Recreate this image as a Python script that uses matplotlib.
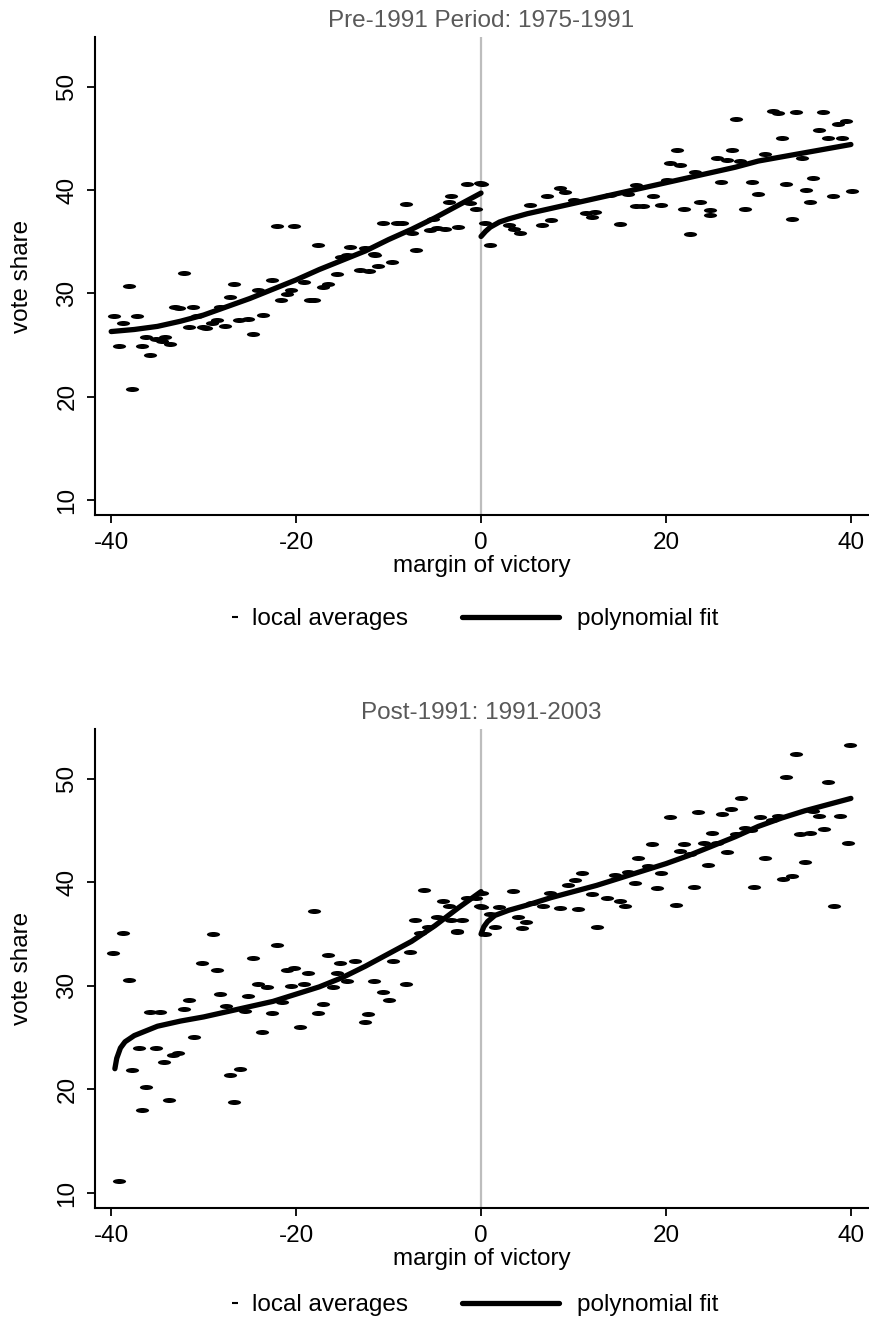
import matplotlib
matplotlib.use("Agg")
import matplotlib.pyplot as plt
from matplotlib.lines import Line2D
from matplotlib.markers import MarkerStyle
from matplotlib.transforms import Affine2D
import numpy as np

plt.rcParams['font.family'] = ['Liberation Sans', 'DejaVu Sans']

# ---------------- data ----------------
titles = ["Pre-1991 Period: 1975-1991", "Post-1991: 1991-2003"]
x_ticks = [-40, -20, 0, 20, 40]
y_ticks = [10, 20, 30, 40, 50]

pre_x = [-39.7, -38.7, -38.1, -37.2, -39.2, -36.7, -36.2, -35.8, -35.2, -34.5, -34.2, -33.6, -37.7,
         -33.1, -32.7, -32.1, -31.2, -31.6, -30.7, -30.1, -29.7, -29.1, -28.6, -28.2, -27.7, -27.1,
         -26.7, -26.2, -25.2, -24.7, -24.1, -23.6, -22.6, -21.6, -21.0, -20.5, -19.2, -18.5, -18.1,
         -17.1, -16.6, -15.6, -15.1, -14.5, -13.1, -12.1, -11.5, -11.1, -9.6, -7.0,
         -22.1, -20.2, -17.6, -14.2, -12.5, -11.6, -10.6, -9.1, -8.6, -8.1, -7.5, -5.5, -5.2, -4.8,
         -3.9, -3.5, -3.2, -2.5, -1.5, -1.2, -0.5, -0.1,
         0.4, 0.1, 1.0, 3.0, 3.6, 4.2, 5.3, 7.1, 6.6, 7.6, 8.5, 9.1, 10.0, 11.4, 12.3, 12.0, 13.9,
         15.0, 15.9, 16.8, 16.8, 17.5, 18.6, 19.5, 20.1, 21.2, 20.4, 21.5, 22.6, 21.9, 23.1, 23.7,
         24.8, 24.8, 25.5, 26.6, 26.0, 27.1, 27.6, 28.0, 28.5, 29.3, 30.0, 30.7, 31.6, 32.1, 32.5,
         33.0, 33.6, 34.1, 34.7, 35.1, 35.6, 35.9, 36.6, 37.0, 37.5, 38.1, 38.6, 39.0, 39.5, 40.1]
pre_y = [27.8, 27.1, 30.7, 27.8, 24.9, 24.9, 25.8, 24.0, 25.6, 25.4, 25.8, 25.1, 20.7,
         28.7, 28.6, 32.0, 28.7, 26.7, 27.8, 26.7, 26.6, 27.1, 27.4, 28.7, 26.8, 29.6,
         30.9, 27.4, 27.5, 26.1, 30.3, 27.9, 31.3, 29.4, 29.9, 30.3, 31.1, 29.4, 29.4,
         30.6, 30.9, 31.9, 33.5, 33.7, 32.3, 32.2, 33.7, 32.6, 33.0, 34.2,
         36.5, 36.5, 34.7, 34.5, 34.4, 33.8, 36.8, 36.8, 36.8, 38.6, 35.8, 36.1, 37.2, 36.3,
         36.2, 38.8, 39.4, 36.4, 40.6, 38.7, 38.2, 40.7,
         36.8, 40.6, 34.7, 36.6, 36.2, 35.8, 38.5, 39.4, 36.6, 37.1, 40.2, 39.8, 39.0, 37.8, 37.9, 37.4, 39.5,
         36.7, 39.6, 40.5, 38.4, 38.4, 39.4, 38.5, 41.0, 43.9, 42.6, 42.4, 35.7, 38.2, 41.7, 38.8,
         38.1, 37.6, 43.1, 42.9, 40.8, 43.9, 46.9, 42.8, 38.2, 40.8, 39.6, 43.5, 47.6, 47.4, 45.0,
         40.6, 37.2, 47.5, 43.1, 40.0, 38.8, 41.2, 45.8, 47.5, 45.0, 39.4, 46.4, 45.0, 46.7, 39.9]

pre_fit_left_x = [-40, -37.5, -35, -32.5, -30, -27.5, -25, -22.5, -20, -17.5, -15, -12.5, -10, -7.5, -5, -2.5, 0]
pre_fit_left_y = [26.3, 26.5, 26.8, 27.3, 27.9, 28.7, 29.5, 30.4, 31.3, 32.3, 33.2, 34.1, 35.2, 36.2, 37.3, 38.5, 39.7]
pre_fit_right_x = [0, 0.5, 1, 2, 3, 5, 7.5, 10, 12.5, 15, 17.5, 20, 22.5, 25, 27.5, 30, 32.5, 35, 37.5, 40]
pre_fit_right_y = [35.5, 36.0, 36.4, 36.9, 37.2, 37.7, 38.2, 38.7, 39.2, 39.7, 40.2, 40.7, 41.2, 41.7, 42.2, 42.8, 43.2, 43.6, 44.0, 44.4]

post_x = [-38.7, -39.8, -38.1, -29.0, -22.1, -24.7, -30.2, -28.6, -31.6, -32.1, -35.8, -34.7, -28.2,
          -27.6, -25.5, -25.2, -24.1, -23.2, -22.6, -23.7, -21.5, -21.0, -20.2, -20.6, -19.1, -18.7,
          -19.6, -17.1, -17.6, -16.6, -15.6, -15.2, -13.6, -14.5, -16.0, -11.6, -10.6, -10.0, -12.2,
          -12.6, -8.1, -9.5, -7.7, -6.6, -2.6, -31.0, -37.0, -35.1, -32.8, -33.3, -34.3, -37.8, -26.1,
          -27.1, -36.2, -33.7, -36.7, -26.7, -39.2,
          -18.1, -6.2, -4.1, -3.5, -1.5, -0.5, -0.1, -7.1, -4.8, -5.7, -3.2, -2.1, -2.6,
          0.1, 0.1, 0.4, 1.0, 1.9, 1.5, 3.5, 4.0, 4.9, 4.4, 5.5, 6.7, 7.5, 8.5, 9.4, 10.2, 10.9, 10.5,
          12.0, 12.5, 13.6, 14.5, 15.0, 15.6, 15.9, 16.6, 17.0, 18.1, 18.5, 19.5, 19.0, 20.4, 21.1,
          21.5, 21.9, 22.6, 23.0, 23.5, 24.1, 24.6, 25.0, 25.5, 26.1, 26.6, 27.0, 27.6, 28.1, 28.5,
          29.2, 29.5, 30.2, 30.7, 31.5, 32.1, 32.7, 33.6, 33.0, 34.1, 34.5, 35.6, 35.0, 35.9, 36.6,
          37.1, 37.5, 38.2, 38.8, 39.7, 39.9]
post_y = [35.1, 33.2, 30.6, 35.0, 33.9, 32.7, 32.2, 31.5, 28.6, 27.8, 27.5, 27.5, 29.2,
          28.1, 27.6, 29.0, 30.2, 29.9, 27.4, 25.5, 28.4, 31.5, 31.7, 30.0, 30.2, 31.2,
          26.0, 28.2, 27.4, 33.0, 31.2, 32.2, 32.4, 30.5, 29.9, 30.5, 29.4, 28.6, 27.3,
          26.5, 30.2, 32.4, 33.3, 35.1, 35.2, 25.1, 24.0, 24.0, 23.5, 23.3, 22.6, 21.9, 22.0,
          21.4, 20.2, 19.0, 18.0, 18.8, 11.2,
          37.2, 39.3, 38.2, 37.7, 38.5, 38.5, 37.7, 36.4, 36.6, 35.7, 36.4, 36.4, 35.3,
          39.0, 37.6, 35.0, 36.9, 37.6, 35.7, 39.2, 36.6, 36.2, 35.6, 38.0, 37.7, 39.0, 37.5, 39.7, 40.2, 40.9, 37.4,
          38.9, 35.7, 38.5, 40.7, 38.2, 37.7, 41.0, 39.9, 42.3, 41.6, 43.7, 40.9, 39.4, 46.3, 37.8,
          43.0, 43.7, 42.7, 39.5, 46.8, 43.8, 41.7, 44.8, 43.8, 46.6, 42.9, 47.1, 44.7, 48.1, 45.2,
          45.0, 39.5, 46.3, 42.3, 46.0, 46.4, 40.3, 40.6, 50.2, 52.4, 44.7, 44.8, 42.0, 46.9, 46.4,
          45.1, 49.7, 37.7, 46.4, 43.8, 53.3]

post_fit_left_x = [-39.6, -39.4, -39.0, -38.5, -37.5, -35, -32.5, -30, -27.5, -25, -22.5, -20, -17.5, -15, -12.5, -10, -7.5, -5, -2.5, 0]
post_fit_left_y = [22.0, 23.0, 24.0, 24.6, 25.2, 26.1, 26.6, 27.0, 27.5, 28.0, 28.5, 29.2, 29.9, 30.8, 31.9, 33.1, 34.3, 35.8, 37.5, 39.1]
post_fit_right_x = [0, 0.3, 0.7, 1.5, 3, 5, 7.5, 10, 12.5, 15, 17.5, 20, 22.5, 25, 27.5, 30, 32.5, 35, 37.5, 40]
post_fit_right_y = [35.0, 35.7, 36.2, 36.8, 37.3, 37.8, 38.5, 39.1, 39.7, 40.4, 41.1, 41.8, 42.6, 43.5, 44.4, 45.4, 46.2, 46.9, 47.5, 48.1]

panels = [
    (titles[0], pre_x, pre_y, (pre_fit_left_x, pre_fit_left_y), (pre_fit_right_x, pre_fit_right_y)),
    (titles[1], post_x, post_y, (post_fit_left_x, post_fit_left_y), (post_fit_right_x, post_fit_right_y)),
]

# ---------------- figure ----------------
W, H = 869, 1327
fig = plt.figure(figsize=(W / 100, H / 100), dpi=100)
fig.patch.set_facecolor('white')

FS = 17.5
ax_rects = [
    (95 / W, 1 - 515 / H, 773 / W, (515 - 37) / H),
    (95 / W, 1 - 1208 / H, 773 / W, (1208 - 729) / H),
]
legend_y = [619, 1305]

dash = MarkerStyle('o', transform=Affine2D().scale(1.0, 0.38))

for (title, px, py, fl, fr), rect, ly in zip(panels, ax_rects, legend_y):
    ax = fig.add_axes(rect)
    ax.axvline(0, color='#bdbdbd', lw=1.6, zorder=1)
    ax.plot(px, py, linestyle='none', marker=dash, ms=9.5, mew=0, color='black', zorder=2)
    ax.plot(fl[0], fl[1], color='black', lw=3.8, solid_capstyle='round', zorder=3)
    ax.plot(fr[0], fr[1], color='black', lw=3.8, solid_capstyle='round', zorder=3)

    ax.set_xlim(-41.75, 41.85)
    ax.set_ylim(8.55, 54.8)
    ax.set_xticks(x_ticks)
    ax.set_yticks(y_ticks)
    ax.set_xticklabels([str(v) for v in x_ticks], fontsize=FS)
    ax.set_yticklabels([str(v) for v in y_ticks], fontsize=FS, rotation=90, va='center')
    ax.tick_params(axis='both', direction='out', length=6, width=1.3, color='black', pad=6)
    for s in ['top', 'right']:
        ax.spines[s].set_visible(False)
    for s in ['left', 'bottom']:
        ax.spines[s].set_linewidth(1.5)
    ax.set_xlabel("margin of victory", fontsize=FS, labelpad=1)
    ax.set_ylabel("vote share", fontsize=FS, labelpad=17)
    ax.set_title(title, fontsize=FS, color='#595959', pad=7)

    h1 = Line2D([], [], linestyle='none', marker='_', ms=4, mew=1.5, color='black')
    h2 = Line2D([], [], color='black', lw=3.8, solid_capstyle='round')
    fig.legend([h1], ["local averages"], loc='center left',
               bbox_to_anchor=(230 / W, 1 - ly / H), frameon=False, borderpad=0,
               borderaxespad=0, fontsize=FS, handlelength=0.4, handletextpad=0.5)
    fig.legend([h2], ["polynomial fit"], loc='center left',
               bbox_to_anchor=(462 / W, 1 - ly / H), frameon=False, borderpad=0,
               borderaxespad=0, fontsize=FS, handlelength=4.0, handletextpad=0.72)

fig.savefig("out.png", dpi=100, facecolor='white')
